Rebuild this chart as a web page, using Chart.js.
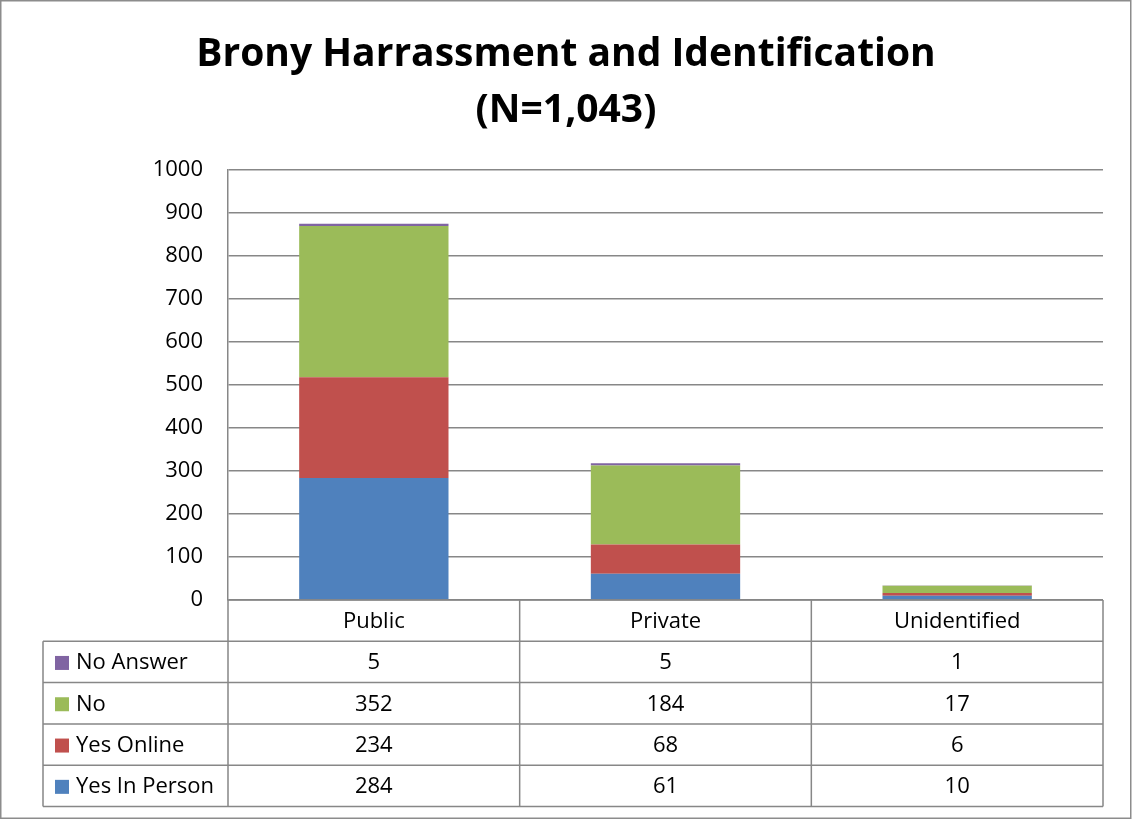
<!DOCTYPE html>
<html>
<head>
<meta charset="utf-8">
<script src="https://cdn.jsdelivr.net/npm/chart.js@4"></script>
<style>
  html, body { margin: 0; padding: 0; background: #fff; }
  canvas { display: block; }
</style>
</head>
<body>
<canvas id="chart" width="1132" height="819"></canvas>
<script>
// Donnees du graphique
const categories = ['Public', 'Private', 'Unidentified'];
const yesInPerson = [284, 61, 10];
const yesOnline = [234, 68, 6];
const noValues = [352, 184, 17];
const noAnswer = [5, 5, 1];
const yTicks = [0, 100, 200, 300, 400, 500, 600, 700, 800, 900, 1000];
const titleLines = ['Brony Harrassment and Identification', '(N=1,043)'];

const FONT = '"Open Sans", sans-serif';
const LINE = '#878787';

// ordre des lignes du tableau (haut vers bas)
const tableRows = [
    { label: 'No Answer', data: noAnswer, color: '#8064A2' },
    { label: 'No', data: noValues, color: '#9BBB59' },
    { label: 'Yes Online', data: yesOnline, color: '#C0504D' },
    { label: 'Yes In Person', data: yesInPerson, color: '#4F81BD' }
];

// Titre, tableau de donnees et cadre exterieur
const decorPlugin = {
    id: 'decor',
    afterDraw(chart) {
        const ctx = chart.ctx;
        const area = chart.chartArea;
        const xs = chart.scales.x;

        ctx.save();
        // titre
        ctx.fillStyle = '#000';
        ctx.textAlign = 'center';
        ctx.textBaseline = 'alphabetic';
        ctx.font = 'bold 39px ' + FONT;
        ctx.fillText(titleLines[0], 566, 66);
        ctx.fillText(titleLines[1], 566, 122);

        // tableau
        const half = (xs.getPixelForValue(1) - xs.getPixelForValue(0)) / 2;
        const bounds = [area.left];
        categories.forEach((c, i) => bounds.push(xs.getPixelForValue(i) + half));
        const top = area.bottom;
        const rowH = 41.3;
        const bottom = top + rowH * 5;
        const tableLeft = 43;

        ctx.strokeStyle = LINE;
        ctx.lineWidth = 1.5;
        ctx.beginPath();
        // horizontales
        ctx.moveTo(area.left, top);
        ctx.lineTo(area.right, top);
        for (let r = 1; r <= 5; r++) {
            const y = top + rowH * r;
            ctx.moveTo(tableLeft, y);
            ctx.lineTo(area.right, y);
        }
        // verticales
        bounds.forEach(x => {
            ctx.moveTo(x, top);
            ctx.lineTo(x, bottom);
        });
        ctx.moveTo(tableLeft, top + rowH);
        ctx.lineTo(tableLeft, bottom);
        ctx.stroke();

        ctx.font = '22px ' + FONT;
        ctx.textBaseline = 'middle';
        ctx.textAlign = 'center';
        categories.forEach((c, i) => {
            ctx.fillText(c, xs.getPixelForValue(i), top + rowH / 2 + 1);
        });

        tableRows.forEach((row, r) => {
            const yMid = top + rowH * (r + 1) + rowH / 2 + 1;
            ctx.fillStyle = row.color;
            ctx.fillRect(55, yMid - 7, 14, 14);
            ctx.fillStyle = '#000';
            ctx.textAlign = 'left';
            ctx.fillText(row.label, 76, yMid);
            ctx.textAlign = 'center';
            row.data.forEach((v, i) => {
                ctx.fillText(String(v), xs.getPixelForValue(i), yMid);
            });
        });

        // cadre exterieur
        ctx.strokeStyle = '#8c8c8c';
        ctx.lineWidth = 1.5;
        ctx.strokeRect(0.75, 0.75, 1130, 817.5);
        ctx.restore();
    }
};

new Chart(document.getElementById('chart'), {
    type: 'bar',
    data: {
        labels: categories,
        datasets: [
            { label: 'Yes In Person', data: yesInPerson, backgroundColor: '#4F81BD' },
            { label: 'Yes Online', data: yesOnline, backgroundColor: '#C0504D' },
            { label: 'No', data: noValues, backgroundColor: '#9BBB59' },
            { label: 'No Answer', data: noAnswer, backgroundColor: '#8064A2' }
        ]
    },
    options: {
        responsive: false,
        animation: false,
        layout: { padding: { left: 0, top: 170, right: 29, bottom: 219 } },
        datasets: { bar: { categoryPercentage: 1, barPercentage: 0.512 } },
        plugins: {
            legend: { display: false },
            tooltip: { enabled: false },
            title: { display: false }
        },
        scales: {
            x: {
                stacked: true,
                display: false
            },
            y: {
                stacked: true,
                min: 0,
                max: 1000,
                afterFit(scale) { scale.width = 228; },
                afterBuildTicks(scale) {
                    scale.ticks = yTicks.map(v => ({ value: v }));
                },
                grid: { color: LINE, lineWidth: 1.5, drawTicks: false },
                border: { color: LINE, width: 1.5 },
                ticks: {
                    padding: 25,
                    color: '#000',
                    font: { family: 'Open Sans', size: 22 },
                    callback: v => String(v)
                }
            }
        }
    },
    plugins: [decorPlugin]
});
</script>
</body>
</html>
